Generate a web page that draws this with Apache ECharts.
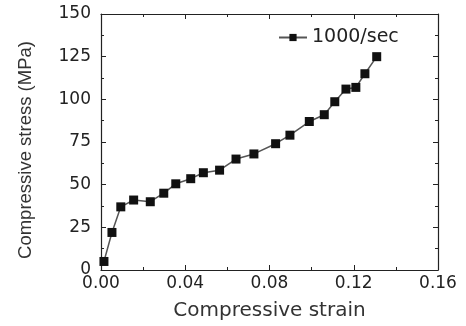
<!DOCTYPE html>
<html>
<head>
<meta charset="utf-8">
<script src="https://cdn.jsdelivr.net/npm/echarts@6/dist/echarts.min.js"></script>
<style>
  html, body { margin: 0; padding: 0; background: #fff; }
  #chart { width: 466px; height: 326px; }
</style>
</head>
<body>
<div id="chart"></div>
<script>
const strain = [0.0014, 0.0052, 0.0094, 0.0155, 0.0234, 0.0298, 0.0355, 0.0426, 0.0486, 0.0563,
  0.0641, 0.0726, 0.0829, 0.0897, 0.0989, 0.106, 0.111, 0.1163, 0.121, 0.1253, 0.1309];
const stress = [5, 22, 37, 41, 40, 45, 50.5, 53.5, 57, 58.5,
  65, 68, 74, 79, 87, 91, 98.6, 106, 107, 115, 125];
const seriesName = '1000/sec';

const chart = echarts.init(document.getElementById('chart'));

const font = 'DejaVu Sans, sans-serif';

const axisLine = { show: true, onZero: false, lineStyle: { color: '#222', width: 1.2 } };
const tick = { show: true, inside: true, length: 5, lineStyle: { color: '#222' } };
const minor = { show: true, splitNumber: 2, length: 3, lineStyle: { color: '#222' } };

const option = {
  animation: false,
  grid: { left: 101, right: 28, top: 14, bottom: 53 },
  legend: {
    data: [seriesName],
    left: 273,
    top: 23,
    itemWidth: 28,
    itemHeight: 9,
    itemGap: 6,
    textStyle: { fontFamily: font, fontSize: 19, color: '#222' }
  },
  xAxis: [
    {
      type: 'value', min: 0, max: 0.16, interval: 0.04,
      name: 'Compressive strain', nameLocation: 'middle', nameGap: 31,
      nameTextStyle: { fontFamily: font, fontSize: 20, color: '#333' },
      axisLine: axisLine, axisTick: tick, minorTick: minor,
      splitLine: { show: false },
      axisLabel: {
        fontFamily: font, fontSize: 17, color: '#222', margin: 5,
        formatter: v => v.toFixed(2)
      }
    },
    {
      type: 'value', position: 'top', min: 0, max: 0.16, interval: 0.04,
      axisLine: axisLine, axisTick: tick, minorTick: minor,
      splitLine: { show: false }, axisLabel: { show: false }
    }
  ],
  yAxis: [
    {
      type: 'value', min: 0, max: 150, interval: 25,
      name: 'Compressive stress (MPa)', nameLocation: 'middle', nameGap: 66,
      nameTextStyle: {
        fontFamily: 'Liberation Sans, Arial, sans-serif', fontSize: 18.5, color: '#333',
        padding: [0, 16, 0, 0]
      },
      axisLine: axisLine, axisTick: tick, minorTick: minor,
      splitLine: { show: false },
      axisLabel: { fontFamily: font, fontSize: 17, color: '#222', margin: 10 }
    },
    {
      type: 'value', position: 'right', min: 0, max: 150, interval: 25,
      axisLine: axisLine, axisTick: tick, minorTick: minor,
      splitLine: { show: false }, axisLabel: { show: false }
    }
  ],
  series: [
    {
      name: seriesName,
      type: 'line',
      data: strain.map((x, i) => [x, stress[i]]),
      symbol: 'rect',
      symbolSize: 9,
      itemStyle: { color: '#111' },
      lineStyle: { color: '#555', width: 1.5 }
    }
  ]
};

chart.setOption(option);
</script>
</body>
</html>
